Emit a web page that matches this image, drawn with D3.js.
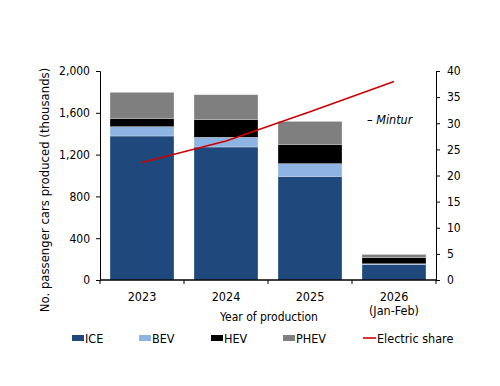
<!DOCTYPE html>
<html><head><meta charset="utf-8">
<script src="https://cdn.jsdelivr.net/npm/d3@7"></script>
<style>body{margin:0;background:#fff}svg{display:block}text{font-family:"DejaVu Sans Condensed","Liberation Sans",Arial,sans-serif;fill:#000}</style>
</head><body>
<svg id="c" width="500" height="386"></svg>
<script>
const categories = ["2023", "2024", "2025", "2026\n(Jan-Feb)"];
const ice  = [1378, 1273, 992, 150];
const bev  = [89, 92, 121, 5];
const hev  = [80, 172, 185, 61];
const phev = [249, 236, 220, 29];
const electricShare = [22.5, 26.6, 32.2, 38.0];
const leftTicks = [0, 400, 800, 1200, 1600, 2000];
const rightTicks = [0, 5, 10, 15, 20, 25, 30, 35, 40];
const seriesNames = ["ICE", "BEV", "HEV", "PHEV"];
const seriesColors = ["#1F497D", "#8DB4E2", "#000000", "#7F7F7F"];
const lineColor = "#CC0000";
const FONT = '"DejaVu Sans Condensed","Liberation Sans",Arial,sans-serif';

const svg = d3.select("#c");
const L = 100, R = 436, T = 71, B = 280;
const x = d3.scaleBand().domain(categories).range([L, R]).paddingInner(0.238).paddingOuter(0.119);
const yL = d3.scaleLinear().domain([0, 2000]).range([B, T]);
const yR = d3.scaleLinear().domain([0, 40]).range([B, T]);

const rows = categories.map((c, i) => ({cat: c, ICE: ice[i], BEV: bev[i], HEV: hev[i], PHEV: phev[i]}));
const stack = d3.stack().keys(seriesNames)(rows);

svg.append("g").selectAll("g").data(stack).join("g")
  .attr("fill", (d, i) => seriesColors[i])
  .selectAll("rect").data(d => d).join("rect")
  .attr("x", d => x(d.data.cat))
  .attr("width", x.bandwidth())
  .attr("y", d => yL(d[1]))
  .attr("height", d => yL(d[0]) - yL(d[1]))
  .attr("stroke", "#ffffff").attr("stroke-opacity", 0.5).attr("stroke-width", 0.6);

// line
const line = d3.line().x((d, i) => x(categories[i]) + x.bandwidth() / 2).y(d => yR(d));
svg.append("path").datum(electricShare).attr("d", line)
  .attr("fill", "none").attr("stroke", lineColor).attr("stroke-width", 1.6);

// left axis
const gl = svg.append("g").attr("transform", `translate(${L},0)`)
  .call(d3.axisLeft(yL).tickValues(leftTicks).tickFormat(d3.format(",")).tickSize(4).tickPadding(6));
// right axis
const gr = svg.append("g").attr("transform", `translate(${R},0)`)
  .call(d3.axisRight(yR).tickValues(rightTicks).tickSize(4).tickPadding(7));
[gl, gr].forEach(g => {
  g.select(".domain").attr("stroke", "#000").attr("stroke-width", 1);
  g.selectAll(".tick line").attr("stroke", "#000");
  g.selectAll(".tick text").attr("font-size", 12).attr("font-family", FONT).attr("fill", "#000");
});

// bottom axis
const gb = svg.append("g").attr("transform", `translate(0,${B})`);
gb.append("line").attr("x1", L).attr("x2", R).attr("stroke", "#000").attr("stroke-width", 1.5);
const step = x.step();
d3.range(categories.length + 1).forEach(i => {
  const xx = L + i * step;
  gb.append("line").attr("x1", xx).attr("x2", xx).attr("y1", 0).attr("y2", 4).attr("stroke", "#000");
});
categories.forEach(c => {
  const t = gb.append("text").attr("text-anchor", "middle").attr("font-size", 12.5)
    .attr("x", x(c) + x.bandwidth() / 2).attr("y", 21);
  c.split("\n").forEach((s, j) => t.append("tspan").attr("x", x(c) + x.bandwidth() / 2).attr("dy", j ? 14 : 0).text(s));
});

svg.append("text").attr("x", 269).attr("y", 321).attr("text-anchor", "middle").attr("font-size", 12).text("Year of production");
svg.append("text").attr("transform", "translate(49,190) rotate(-90)").attr("text-anchor", "middle")
  .attr("font-size", 13).text("No. passenger cars produced (thousands)");

// annotation
svg.append("text").attr("x", 367).attr("y", 124).attr("font-size", 12.5).attr("font-style", "italic")
  .text("\u2013 Mintur");

// legend
const lg = svg.append("g");
const legendX = [72, 139, 211, 283];
seriesNames.forEach((n, i) => {
  lg.append("rect").attr("x", legendX[i]).attr("y", 335).attr("width", 12).attr("height", 6).attr("fill", seriesColors[i]);
  lg.append("text").attr("x", legendX[i] + 13).attr("y", 343).attr("font-size", 12.5).text(n);
});
lg.append("line").attr("x1", 363).attr("x2", 376).attr("y1", 338).attr("y2", 338).attr("stroke", lineColor).attr("stroke-width", 1.6);
lg.append("text").attr("x", 377).attr("y", 343).attr("font-size", 12.5).text("Electric share");
</script>
</body></html>
